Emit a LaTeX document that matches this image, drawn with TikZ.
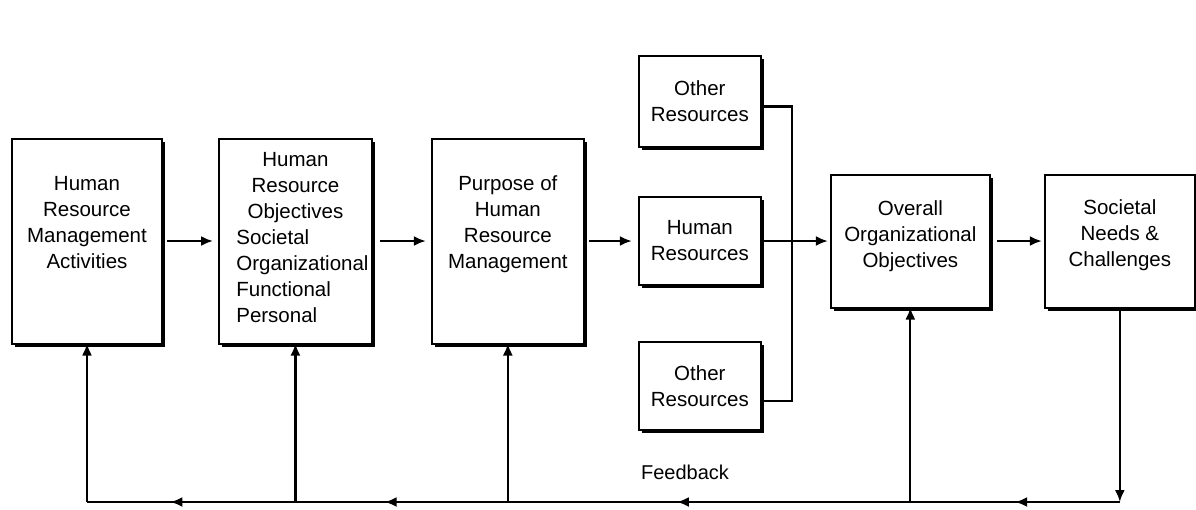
\documentclass[tikz,border=0pt]{standalone}
\usepackage{fontspec}
\setmainfont{Liberation Sans}
\usetikzlibrary{arrows.meta, positioning, shadows, decorations.markings}

\tikzset{fbmark/.style={postaction = {decorate}, decoration = {markings,
            mark = at position #1 with {\arrow{>}}}}}

\begin{document}
\begin{tikzpicture}[> = {Latex[length=12pt,width=10pt]}, % arrow head style
                x = 1pt, y = -1pt, % pixel units, y grows downwards
                node distance = 57pt, % gap between boxes
                line width = 2.2pt % line style
            ]

            \tikzstyle{box}=[draw = black, fill = white, line width = 2pt,
            outer sep = 0pt, align = center, font = \fontsize{20.5}{26}\selectfont,
            drop shadow = {shadow xshift = 3pt, shadow yshift = -3pt,
            fill = black, opacity = 1}]

            \useasboundingbox (0,0) rectangle (1196,509);

            \node[box, minimum width = 150pt, minimum height = 205pt] (act) at (87,241)
            {Human\\Resource\\Management\\Activities\\[11pt]\mbox{}};
            \node[box, minimum width = 151pt, minimum height = 205pt, right = of act] (obj)
            {Human\\Resource\\Objectives\\ \hspace*{14pt}\begin{tabular}[t]{@{}l@{}}Societal\\
            Organizational\\Functional\\Personal\end{tabular}};
            \node[box, minimum width = 152pt, minimum height = 205pt, right = 60pt of obj] (pur)
            {Purpose of\\Human\\Resource\\Management\\[11pt]\mbox{}};
            \node[box, minimum width = 122pt, minimum height = 88pt, right = 55pt of pur] (hr)
            {Human\\Resources};
            \node[box, minimum width = 122pt, minimum height = 91pt, above = 50pt of hr] (oth1)
            {Other\\Resources};
            \node[box, minimum width = 122pt, minimum height = 88pt, below = 57pt of hr] (oth2)
            {Other\\Resources};
            \node[box, minimum width = 159pt, minimum height = 133pt, right = 70pt of hr] (ovr)
            {Overall\\Organizational\\Objectives\\[-12pt]\mbox{}};
            \node[box, minimum width = 150pt, minimum height = 133pt, right = 55pt of ovr] (soc)
            {Societal\\Needs \&\\Challenges\\[-10pt]\mbox{}};

            \coordinate[right = 31pt of hr] (bus);
            \coordinate (fb) at (0,502);

            \path[->] (act) edge[shorten < = 5pt, shorten > = 6pt] (obj);
            \path[->] (obj) edge[shorten < = 8pt, shorten > = 6pt] (pur);
            \path[->] (pur) edge[shorten < = 5pt, shorten > = 7pt] (hr);
            \path[->] (hr) edge[shorten > = 3pt] (ovr);
            \path[->] (ovr) edge[shorten < = 7pt, shorten > = 3pt] (soc);
            \draw ([yshift = -5pt]oth1.east) -| (bus) |- ([yshift = -15pt]oth2.east);

            % feedback loop
            \draw[->] (soc) -- (soc |- fb);
            \draw[fbmark = 0.5] (soc |- fb) -- (ovr |- fb);
            \draw[fbmark = 0.58] (ovr |- fb) -- (pur |- fb);
            \draw[fbmark = 0.58] (pur |- fb) -- (obj |- fb);
            \draw[fbmark = 0.6] (obj |- fb) -- (act |- fb);
            \foreach \b in {act, obj, pur, ovr} \draw[->] (\b |- fb) -- (\b);

            \node[font = \fontsize{20}{25}\selectfont] (fbtext) at (685,472) {Feedback};
        \end{tikzpicture}
\end{document}
